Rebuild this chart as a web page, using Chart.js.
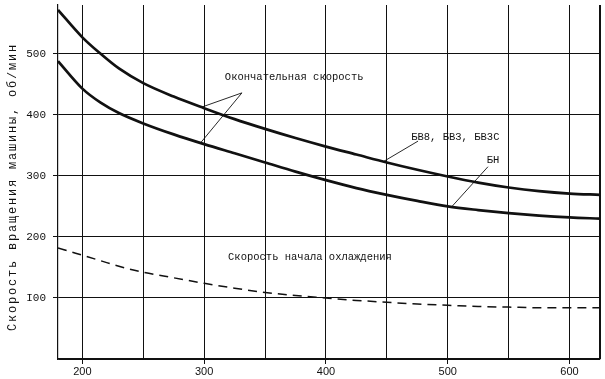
<!DOCTYPE html>
<html><head><meta charset="utf-8">
<script src="https://cdn.jsdelivr.net/npm/chart.js@4/dist/chart.umd.min.js"></script>
<style>html,body{margin:0;padding:0;background:#fff;}#wrap{width:605px;height:379px;position:relative;}</style>
</head><body><div id="wrap"><canvas id="c" width="605" height="379"></canvas></div>
<script>
// Diameter / load axis values (x)
const speedX = [180, 200, 215, 230, 250, 275, 300, 325, 350, 375, 400, 425, 450, 475, 500, 525, 550, 575, 600, 625];
// Final speed, БВ8, БВ3, БВ3С
const finalSpeedBV = [572, 527, 500, 476, 452, 430, 411, 393, 377, 362, 348, 335, 322, 310, 299, 289, 281, 275, 271, 269];
// Final speed, БН
const finalSpeedBN = [488, 443, 420, 403, 386, 368, 352, 337, 322, 307, 293, 280, 269, 259, 250, 244, 239, 235, 232, 230];
// Speed at start of cooling
const coolingStart = [182, 170, 161, 152, 142, 133, 124, 116, 109, 104, 100, 96, 93, 90, 88, 86, 85, 84, 84, 84];

const xTickLabels = [200, 300, 400, 500, 600];
const xGridValues = [200, 250, 300, 350, 400, 450, 500, 550, 600, 625];
const yGridValues = [0, 100, 200, 300, 400, 500];
const yTickLabels = ['', 'I00', '200', '300', '400', '500'];

const yTitle = 'Скорость вращения машины, об/мин';
const labelFinal = 'Окончательная скорость';
const labelBV = 'БВ8, БВ3, БВ3С';
const labelBN = 'БН';
const labelCool = 'Скорость начала охлаждения';

const INK = '#111';
const MONO = '"Liberation Mono", "DejaVu Sans Mono", monospace';

const toPts = arr => speedX.map((x, i) => ({x: x, y: arr[i]}));

const annot = {
  id: 'annot',
  afterDatasetsDraw(chart) {
    const ctx = chart.ctx, xs = chart.scales.x, ys = chart.scales.y;
    const P = (x, y) => [xs.getPixelForValue(x), ys.getPixelForValue(y)];
    ctx.save();
    ctx.fillStyle = INK;
    ctx.strokeStyle = INK;
    ctx.font = '10.5px ' + MONO;
    ctx.textBaseline = 'middle';
    ctx.textAlign = 'left';
    let p;
    p = P(317, 462); ctx.fillText(labelFinal, p[0], p[1]);
    p = P(470, 364); ctx.fillText(labelBV, p[0], p[1]);
    p = P(532, 326); ctx.fillText(labelBN, p[0], p[1]);
    p = P(319.6, 166); ctx.fillText(labelCool, p[0], p[1]);
    ctx.lineWidth = 0.9;
    const seg = (a, b) => { const p1 = P(a[0], a[1]), p2 = P(b[0], b[1]); ctx.beginPath(); ctx.moveTo(p1[0], p1[1]); ctx.lineTo(p2[0], p2[1]); ctx.stroke(); };
    seg([331, 436], [297, 412]);
    seg([331, 436], [297, 354]);
    seg([475.6, 357], [446.8, 323]);
    seg([533, 315], [503.5, 250]);
    // y axis title, drawn char by char for typewriter spacing
    ctx.translate(13, 188);
    ctx.rotate(-Math.PI / 2);
    ctx.font = '12px ' + MONO;
    ctx.textAlign = 'center';
    const adv = 9.0;
    const n = yTitle.length;
    for (let i = 0; i < n; i++) {
      ctx.fillText(yTitle[i], (i - (n - 1) / 2) * adv, 0);
    }
    ctx.restore();
  }
};

new Chart(document.getElementById('c'), {
  type: 'line',
  data: {
    datasets: [
      {data: toPts(finalSpeedBV), borderColor: INK, borderWidth: 2.7, pointRadius: 0, cubicInterpolationMode: 'monotone', fill: false},
      {data: toPts(finalSpeedBN), borderColor: INK, borderWidth: 2.7, pointRadius: 0, cubicInterpolationMode: 'monotone', fill: false},
      {data: toPts(coolingStart), borderColor: INK, borderWidth: 1.5, borderDash: [9, 6], pointRadius: 0, cubicInterpolationMode: 'monotone', fill: false}
    ]
  },
  options: {
    responsive: false,
    devicePixelRatio: 1,
    animation: false,
    layout: {padding: {top: 5, right: 5, left: 0, bottom: 0}},
    plugins: {legend: {display: false}, tooltip: {enabled: false}, title: {display: false}},
    scales: {
      x: {
        type: 'linear', min: 180, max: 625,
        afterBuildTicks: s => { s.ticks = xGridValues.map(v => ({value: v})); },
        afterFit: s => { s.height = 20; s.paddingLeft = 0; s.paddingRight = 0; },
        border: {display: true, color: INK, width: 1.2},
        grid: {
          color: INK,
          lineWidth: c => (c.tick && c.tick.value === 625) ? 2 : 1,
          tickLength: 5,
          tickColor: c => (c.tick && xTickLabels.includes(c.tick.value)) ? INK : 'rgba(0,0,0,0)'
        },
        ticks: {
          autoSkip: false, maxRotation: 0, padding: 1,
          color: INK,
          font: {family: '"Liberation Sans", Arial, sans-serif', size: 11},
          callback: v => xTickLabels.includes(v) ? String(v) : ''
        }
      },
      y: {
        type: 'linear', min: 0, max: 580,
        afterBuildTicks: s => { s.ticks = yGridValues.map(v => ({value: v})); },
        afterFit: s => { s.width = 58; s.paddingTop = 0; s.paddingBottom = 0; },
        border: {display: true, color: INK, width: 1.2},
        grid: {
          color: INK, lineWidth: 1, tickLength: 5,
          tickColor: c => (c.tick && c.tick.value === 0) ? 'rgba(0,0,0,0)' : INK
        },
        ticks: {
          padding: 7, color: INK,
          font: {family: MONO, size: 11},
          callback: (v) => { const i = yGridValues.indexOf(v); return i >= 0 ? yTickLabels[i] : ''; }
        }
      }
    }
  },
  plugins: [annot]
});
</script>
</body></html>
